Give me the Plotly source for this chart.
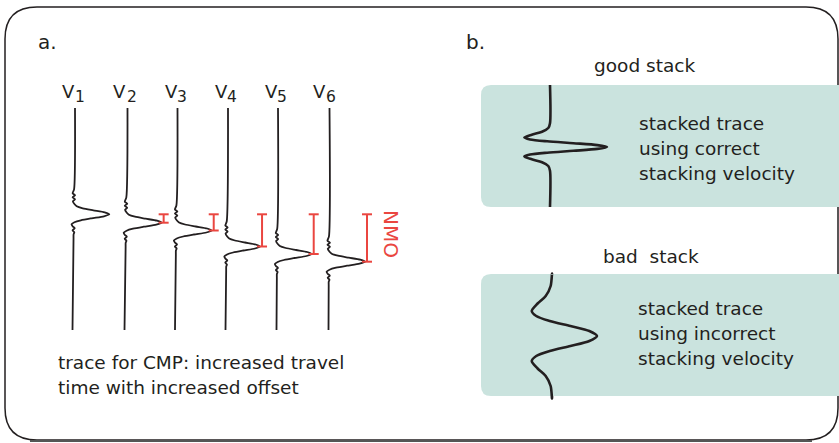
import plotly.graph_objects as go

# ---------------- data (pixel-like units) ----------------
TRACE_NAMES = ["1", "2", "3", "4", "5", "6"]
TRACE_X_TOP = [75, 127.5, 177.5, 228, 278, 329.5]
TRACE_X_BOTTOM = [72.5, 124.5, 175, 225.5, 276.5, 328.5]
PEAK_TIMES = [214.3, 222.7, 230.5, 246.5, 254, 261.7]
PEAK_AMPS = [35.5, 35.7, 35.6, 33.6, 34.7, 36.2]

# CMP wavelet shape (time offset px, normalised amplitude)
CMP_DT = [-25, -21, -19, -17, -15, -13, -10, -8, -6, -4, -2, 0, 2, 4, 6, 8, 10, 12, 14, 16, 18, 20, 24]
CMP_AMP = [0, -0.04, 0.03, -0.04, 0.03, -0.03, 0.02, 0.08, 0.25, 0.55, 0.87, 1.0, 0.85, 0.50, 0.20,
           0.02, -0.06, -0.03, 0.03, -0.03, 0.02, 0, 0]

# stacked wavelet shape (time in units of side-lobe offset, normalised amplitude)
STACK_DT = [-2.5, -2.0, -1.6, -1.3, -1.0, -0.8, -0.6, -0.4, -0.2, 0,
            0.2, 0.4, 0.6, 0.8, 1.0, 1.3, 1.6, 2.0, 2.5]
STACK_AMP = [0, -0.03, -0.14, -0.32, -0.45, -0.35, -0.05, 0.41, 0.83, 1.0,
             0.83, 0.41, -0.05, -0.35, -0.45, -0.32, -0.14, -0.03, 0]

GOOD = dict(x=550, top=85, bottom=207, peak=147, lobe=9.5, amp=57)
BAD = dict(x=552, top=274, bottom=396, peak=336, lobe=25, amp=45)

TRACE_TOP, TRACE_BOTTOM = 108, 330

INK = "#231f20"
RED = "#ea4640"
TEAL = "#cae3de"
FONT = "DejaVu Sans"

fig = go.Figure()


def baseline(i, y):
    f = (y - TRACE_TOP) / (TRACE_BOTTOM - TRACE_TOP)
    return TRACE_X_TOP[i] + f * (TRACE_X_BOTTOM[i] - TRACE_X_TOP[i])


# CMP traces
for i in range(len(TRACE_NAMES)):
    ys = [TRACE_TOP] + [PEAK_TIMES[i] + d for d in CMP_DT] + [TRACE_BOTTOM]
    amps = [0] + CMP_AMP + [0]
    xs = [baseline(i, y) + a * PEAK_AMPS[i] for y, a in zip(ys, amps)]
    fig.add_trace(go.Scatter(x=xs, y=ys, mode="lines",
                             line=dict(color=INK, width=1.8, shape="spline", smoothing=0.7),
                             hoverinfo="skip", showlegend=False))

# NMO bars
for i in range(1, len(TRACE_NAMES)):
    bx = baseline(i, PEAK_TIMES[i]) + PEAK_AMPS[i] + 2
    y0, y1 = PEAK_TIMES[0], PEAK_TIMES[i]
    fig.add_trace(go.Scatter(
        x=[bx, bx, None, bx - 5, bx + 5, None, bx - 5, bx + 5],
        y=[y0, y1, None, y0, y0, None, y1, y1],
        mode="lines", line=dict(color=RED, width=2),
        hoverinfo="skip", showlegend=False))

# stacked traces
for s in (GOOD, BAD):
    ys = [s["top"]] + [s["peak"] + d * s["lobe"] for d in STACK_DT] + [s["bottom"]]
    xs = [s["x"]] + [s["x"] + a * s["amp"] for a in STACK_AMP] + [s["x"]]
    fig.add_trace(go.Scatter(x=xs, y=ys, mode="lines",
                             line=dict(color=INK, width=2.6, shape="spline", smoothing=0.8),
                             hoverinfo="skip", showlegend=False))


def rrect(x0, y0, x1, y1, r):
    return (f"M {x0+r},{y0} L {x1-r},{y0} Q {x1},{y0} {x1},{y0+r} "
            f"L {x1},{y1-r} Q {x1},{y1} {x1-r},{y1} L {x0+r},{y1} "
            f"Q {x0},{y1} {x0},{y1-r} L {x0},{y0+r} Q {x0},{y0} {x0+r},{y0} Z")


shapes = [
    dict(type="path", path=rrect(5, 7, 838, 440, 32), line=dict(color=INK, width=1.5),
         fillcolor="rgba(0,0,0,0)", layer="below"),
    dict(type="line", x0=30, x1=812, y0=441, y1=441, line=dict(color="#555", width=2), layer="below"),
    dict(type="path", path=rrect(481, 85, 860, 207, 10), line=dict(width=0),
         fillcolor=TEAL, layer="below"),
    dict(type="path", path=rrect(481, 274, 860, 396, 10), line=dict(width=0),
         fillcolor=TEAL, layer="below"),
]

ann = []


def txt(x, y, t, size=18.5, color=INK, xanchor="left", angle=0):
    ann.append(dict(x=x, y=y, text=t, showarrow=False, xref="x", yref="y",
                    xanchor=xanchor, yanchor="middle", textangle=angle,
                    font=dict(family=FONT, size=size, color=color)))


txt(47, 42, "a.", size=20, xanchor="center")
txt(475, 42, "b.", size=20, xanchor="center")

V_X = [68, 119, 171, 221.7, 271.7, 319]
SUB_X = [80, 132, 182, 232, 282, 330.5]
for vx, sx, n in zip(V_X, SUB_X, TRACE_NAMES):
    txt(vx, 91, "V", size=18, xanchor="center")
    txt(sx, 97, n, size=15.5, xanchor="center")

txt(391, 234, "NMO", size=20, color=RED, xanchor="center", angle=90)

txt(56, 362, "trace for CMP: increased travel")
txt(56, 387, "time with increased offset")

txt(644.5, 65, "good stack", xanchor="center")
txt(651, 256, "bad&nbsp; stack", xanchor="center")

for y, t in zip([123, 148, 173], ["stacked trace", "using correct", "stacking velocity"]):
    txt(637, y, t)
for y, t in zip([308, 333, 358], ["stacked trace", "using incorrect", "stacking velocity"]):
    txt(636, y, t)

fig.update_layout(
    width=839, height=443, margin=dict(l=0, r=0, t=0, b=0),
    paper_bgcolor="white", plot_bgcolor="white",
    xaxis=dict(range=[0, 839], visible=False, fixedrange=True),
    yaxis=dict(range=[443, 0], visible=False, fixedrange=True),
    shapes=shapes, annotations=ann, showlegend=False,
)

fig.write_html("out.html", config={"displayModeBar": False},
               post_script="document.body.style.margin='0px';document.body.style.overflow='hidden';")
